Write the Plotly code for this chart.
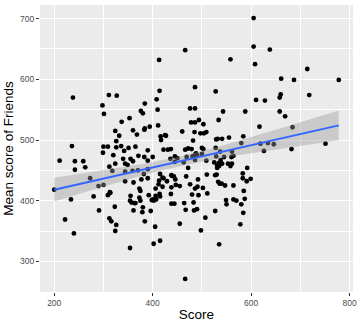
import numpy as np
import plotly.graph_objects as go

# ---- data (Score, Mean score of Friends) ----
score_a = [200, 211, 222, 234, 236, 238, 240, 242, 242, 259, 263, 273, 280, 290, 291]
friends_a = [418, 466, 369, 402, 490, 570, 346, 465, 451, 465, 455, 437, 407, 424, 384]

score_b = [298, 301, 299, 300, 300, 309, 309, 311, 312, 313, 312, 314, 316, 318, 320,
           323, 324, 324, 324, 326, 326, 326, 327, 332, 336, 337, 340, 342, 344, 344,
           344, 349, 351, 353, 354, 354, 355, 355, 357, 359, 360, 360, 361, 361, 363, 365, 365]
friends_b = [557, 543, 479, 489, 426, 489, 409, 574, 456, 414, 371, 413, 366, 449, 475,
             390, 461, 515, 350, 360, 498, 488, 573, 507, 490, 530, 469, 482, 448, 432,
             461, 459, 487, 536, 322, 400, 408, 469, 397, 449, 516, 465, 430, 384, 396, 489, 396]

score_c = [368, 370, 371, 373, 373, 375, 375, 376, 377, 379, 380, 382, 383, 383, 384,
           384, 384, 390, 390, 390, 390, 392, 394, 396, 398, 400, 400, 402, 402, 405,
           406, 406, 406, 407, 408, 410, 411, 412, 413, 413, 414, 414, 415, 415, 415,
           416, 417, 420, 420, 422, 422, 425, 427, 429, 431, 436, 437, 437, 438, 438,
           438, 439, 443, 444, 445, 445, 446, 447, 450, 380]
friends_c = [509, 450, 474, 420, 405, 416, 400, 548, 435, 381, 389, 444, 517, 472, 366,
             519, 560, 466, 483, 452, 437, 409, 522, 383, 401, 472, 402, 329, 400, 357,
             420, 403, 408, 402, 567, 550, 524, 427, 433, 632, 581, 411, 444, 407, 334,
             506, 500, 423, 438, 484, 437, 508, 507, 432, 484, 469, 485, 411, 442, 422,
             395, 441, 440, 395, 464, 473, 435, 426, 470, 544]

score_d = [455, 455, 460, 463, 464, 466, 466, 468, 467, 469, 472, 472, 482, 476, 486,
           476, 478, 486, 494, 503, 479, 481, 484, 485, 486, 486, 488, 490, 492, 466,
           480, 486, 486, 483, 490, 491, 493, 497, 504, 509, 498, 500, 500, 503, 502,
           507, 509, 511, 510, 528, 534]
friends_d = [362, 424, 514, 463, 396, 271, 484, 440, 385, 472, 454, 486, 499, 552, 552,
             427, 529, 529, 533, 526, 485, 473, 384, 513, 420, 467, 478, 475, 435, 648,
             410, 587, 476, 397, 386, 423, 409, 511, 511, 513, 351, 477, 487, 485, 421,
             372, 466, 412, 443, 580, 533]

score_e = [525, 527, 527, 528, 529, 529, 530, 531, 531, 532, 533, 534, 535, 535, 536,
           537, 538, 540, 541, 541, 543, 545, 547, 549, 550, 553, 555]
friends_e = [463, 383, 442, 487, 473, 501, 443, 454, 458, 502, 431, 462, 328, 457, 428,
             481, 467, 428, 502, 461, 547, 472, 425, 401, 394, 461, 504]

score_f = [558, 561, 564, 560, 558, 561, 564, 564, 570, 578, 584, 580, 587, 585, 583,
           583, 591, 599, 592, 580, 584, 588, 605, 605, 638, 608, 714, 661, 687, 778,
           610, 628, 660, 658, 718, 658, 669, 617, 684, 619, 634, 646, 682, 751, 626]
friends_f = [633, 481, 474, 472, 457, 461, 425, 402, 400, 361, 380, 394, 403, 416, 437,
             445, 432, 436, 454, 495, 506, 547, 701, 654, 649, 625, 617, 601, 599, 599,
             566, 565, 575, 570, 574, 547, 539, 522, 521, 494, 495, 493, 485, 494, 482]

x_ticks = [200, 400, 600, 800]
y_ticks = [300, 400, 500, 600, 700]

score = np.array(score_a + score_b + score_c + score_d + score_e + score_f, dtype=float)
friends = np.array(friends_a + friends_b + friends_c + friends_d + friends_e + friends_f, dtype=float)

# ---- linear model with 95% confidence band (like geom_smooth(method="lm")) ----
n = len(score)
b, a = np.polyfit(score, friends, 1)
resid = friends - (a + b * score)
s = np.sqrt(np.sum(resid ** 2) / (n - 2))
xbar = score.mean()
sxx = np.sum((score - xbar) ** 2)
xs = np.linspace(score.min(), score.max(), 80)
fit = a + b * xs
se = s * np.sqrt(1.0 / n + (xs - xbar) ** 2 / sxx)
tcrit = 1.9696
lo = fit - tcrit * se
hi = fit + tcrit * se

xspan = score.max() - score.min()
yspan = friends.max() - friends.min()
xr = [score.min() - 0.05 * xspan, score.max() + 0.05 * xspan]
yr = [friends.min() - 0.05 * yspan, friends.max() + 0.05 * yspan]

fig = go.Figure()
fig.add_trace(go.Scatter(x=score, y=friends, mode="markers",
                         marker=dict(color="black", size=4.8, line=dict(width=0)),
                         hoverinfo="skip", showlegend=False))
fig.add_trace(go.Scatter(x=np.concatenate([xs, xs[::-1]]), y=np.concatenate([hi, lo[::-1]]),
                         fill="toself", fillcolor="rgba(153,153,153,0.4)",
                         line=dict(width=0), mode="lines", hoverinfo="skip", showlegend=False))
fig.add_trace(go.Scatter(x=xs, y=fit, mode="lines", line=dict(color="#3366FF", width=2),
                         hoverinfo="skip", showlegend=False))

font_family = "Liberation Sans, Arial, sans-serif"
axis_common = dict(
    showgrid=True, gridcolor="white", gridwidth=1.1,
    zeroline=False, showline=False, automargin=False,
    ticks="outside", ticklen=3, tickwidth=1, tickcolor="#333333",
    tickfont=dict(family=font_family, size=8.5, color="#4D4D4D"),
)

fig.update_layout(
    width=360, height=327,
    margin=dict(l=40, r=7, t=5, b=35),
    paper_bgcolor="white", plot_bgcolor="#EBEBEB",
    font=dict(family=font_family),
    showlegend=False,
    xaxis=dict(range=xr, tickmode="array", tickvals=x_ticks,
               ticktext=[str(v) for v in x_ticks],
               minor=dict(tickvals=[300, 500, 700], showgrid=True, gridcolor="white",
                          gridwidth=0.5, ticks=""),
               title=dict(text="Score", font=dict(family=font_family, size=13.5, color="black"),
                          standoff=2),
               **axis_common),
    yaxis=dict(range=yr, tickmode="array", tickvals=y_ticks,
               ticktext=[str(v) for v in y_ticks],
               minor=dict(tickvals=[250, 350, 450, 550, 650], showgrid=True, gridcolor="white",
                          gridwidth=0.5, ticks=""),
               title=dict(text="Mean score of Friends",
                          font=dict(family=font_family, size=13.5, color="black"),
                          standoff=3),
               **axis_common),
)

fig.write_html("out.html", config={"displayModeBar": False},
               post_script="document.body.style.margin='0';document.body.style.padding='0';")
